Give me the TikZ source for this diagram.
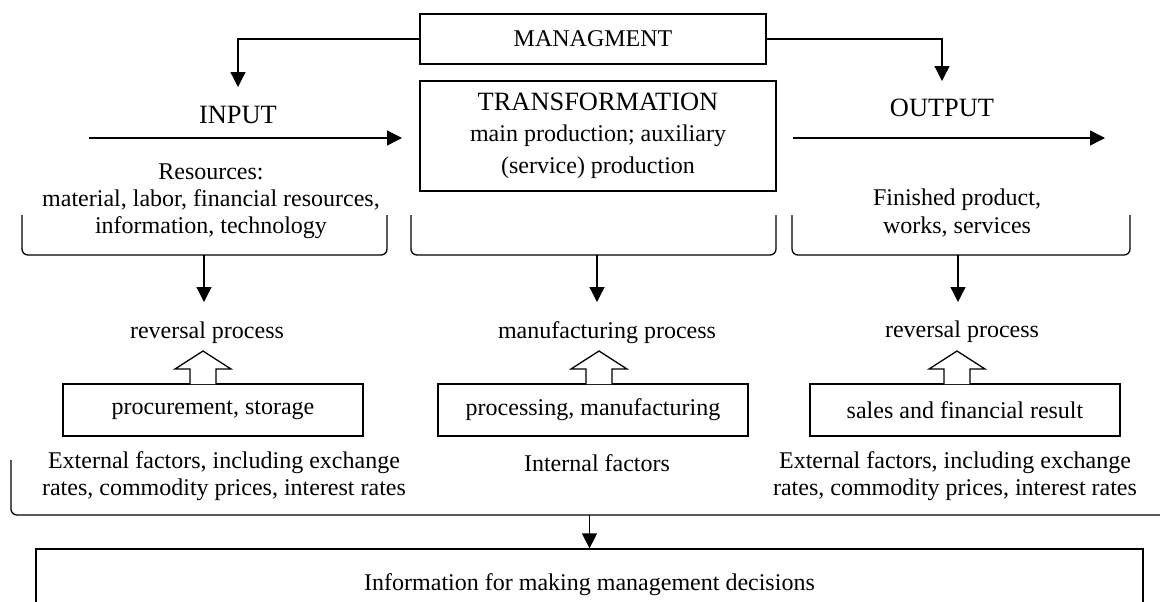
\documentclass[tikz,border=0pt]{standalone}
\usepackage{fontspec}
\setmainfont{Liberation Serif}
\usetikzlibrary{arrows.meta}
\tikzset{
  box/.style={draw, inner sep=0pt, align=center},
  txt/.style={inner sep=0pt, align=center},
  big/.style={font=\fontsize{13.2}{15}\selectfont},
  brace/.style={rounded corners=3pt},
  hollow/.style={fill=white},
}

\begin{document}
\begin{tikzpicture}[x=0.5pt, y=-0.5pt, line width=0.65pt,
  >={Triangle[length=7.5pt,width=7.5pt]},
  font=\fontsize{12}{13.6}\selectfont]
    \clip (0,0) rectangle (1160,601);

    % managment and transformation
    \node[box, minimum width=173pt, minimum height=25pt] (mgmt) at (593,39) {MANAGMENT};
    \node[box, minimum width=178pt, minimum height=55pt] (trans) at (598,136) {{\fontsize{13.2}{15}\selectfont TRANSFORMATION}\\[2pt] main production; auxiliary\\[2.6pt] (service) production};
    \node[txt, big] (input) at (238,115) {INPUT};
    \node[txt, big] (output) at (942,108) {OUTPUT};
    \coordinate (inTip) at (238,87);
    \coordinate (outTip) at (942,81);
    \draw [->] (mgmt.west) -| (inTip);
    \draw [->] (mgmt.east) -| (outTip);
    \coordinate (inA) at (89,138);
    \coordinate (inB) at (402,138);
    \coordinate (outA) at (793,138);
    \coordinate (outB) at (1105,138);
    \draw [->] (inA) -- (inB);
    \draw [->] (outA) -- (outB);

    % resources and products
    \node[txt] (res) at (211,201) {Resources:\\ material, labor, financial resources,\\ information, technology};
    \node[txt] (prod) at (957,213) {Finished product,\\ works, services};

    \foreach \a/\b/\m/\n in {22/387/204/L, 411/776/597/M, 792/1130/958/R} {
      \draw[brace] (\a,215) -- (\a,255) -- (\b,255) -- (\b,215);
      \coordinate (br\n) at (\m,255);
      \coordinate (tip\n) at (\m,302);
      \draw [->] (br\n) -- (tip\n);
    }

    % processes
    \node[txt] (revL) at (207,333) {reversal process};
    \node[txt] (manuf) at (607,333) {manufacturing process};
    \node[txt] (revR) at (962,332) {reversal process};
    \node[box, minimum width=150pt, minimum height=26pt] (procure) at (213,410) {procurement, storage};
    \node[box, minimum width=155pt, minimum height=26pt] (processing) at (593,410) {processing, manufacturing};
    \node[box, minimum width=155pt, minimum height=26pt] (sales) at (965,410) {sales and financial result};
    \foreach \h in {203,599,957}
      \draw[hollow] (\h-13,384) -- (\h-13,369) -- (\h-28,369) -- (\h,351) -- (\h+28,369) -- (\h+13,369) -- (\h+13,384);

    % factors
    \node[txt] (extL) at (224,476.5) {External factors, including exchange\\ rates, commodity prices, interest rates};
    \node[txt] (internal) at (597,463) {Internal factors};
    \node[txt] (extR) at (955,476.5) {External factors, including exchange\\ rates, commodity prices, interest rates};

    % decisions
    \draw[brace] (11,460) -- (11,515) -- (1170,515);
    \node[box, minimum width=553.5pt, minimum height=36pt] (info) at (589.5,585) {Information for making management decisions};
    \coordinate (sum) at (589.5,515);
    \draw [->] (sum) -- (info.north);
\end{tikzpicture}
\end{document}
